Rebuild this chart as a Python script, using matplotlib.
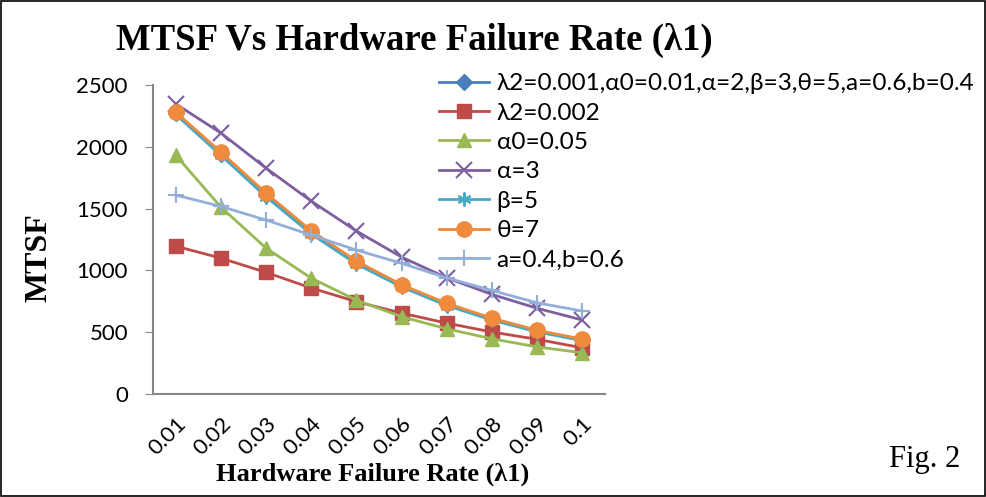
import matplotlib
matplotlib.use("Agg")
import matplotlib.pyplot as plt
from matplotlib.patches import Rectangle

x_labels = ["0.01", "0.02", "0.03", "0.04", "0.05", "0.06", "0.07", "0.08", "0.09", "0.1"]

base = [2272, 1945, 1610, 1310, 1065, 880, 728, 608, 512, 438]
lam2_002 = [1197, 1100, 985, 858, 748, 655, 574, 502, 443, 374]
alpha0_005 = [1934, 1513, 1181, 938, 760, 626, 528, 447, 382, 334]
alpha_3 = [2348, 2112, 1828, 1561, 1319, 1108, 940, 806, 694, 599]
beta_5 = [2262, 1932, 1596, 1295, 1052, 866, 716, 598, 503, 432]
theta_7 = [2282, 1958, 1626, 1322, 1076, 885, 734, 614, 517, 444]
ab = [1610, 1518, 1408, 1286, 1165, 1058, 940, 838, 738, 672]

labels = ["λ2=0.001,α0=0.01,α=2,β=3,θ=5,a=0.6,b=0.4", "λ2=0.002", "α0=0.05",
          "α=3", "β=5", "θ=7", "a=0.4,b=0.6"]
series = [base, lam2_002, alpha0_005, alpha_3, beta_5, theta_7, ab]
colors = ["#4A7EBB", "#BE4B48", "#98B954", "#7D5FA0", "#46AAC5", "#F08A3C", "#93AFD9"]
markers = ["D", "s", "^", "x", (6, 2, 0), "o", "+"]
msizes = [8, 10, 10, 11, 10, 11, 12]

fig = plt.figure(figsize=(9.87, 4.97), dpi=100)
ax = fig.add_axes([0.155, 0.207, 0.458, 0.622])

xs = list(range(len(x_labels)))
for vals, lab, c, m, ms in zip(series, labels, colors, markers, msizes):
    ax.plot(xs, vals, color=c, marker=m, markersize=ms, linewidth=2,
            markeredgewidth=1.5 if m in ("x", "+") or isinstance(m, tuple) else 1,
            markeredgecolor=c, label=lab)

ax.set_xlim(-0.5, len(x_labels) - 0.5)
ax.set_ylim(0, 2500)
ax.set_yticks([0, 500, 1000, 1500, 2000, 2500])
ax.set_xticks(xs)
ax.set_xticklabels(x_labels, rotation=45, ha="right", rotation_mode="anchor",
                   family="Lato", fontsize=16)
for t in ax.get_yticklabels():
    t.set_family("Lato")
    t.set_fontsize(16)
ax.tick_params(axis="y", length=6, color="#868686", direction="out", pad=12)
ax.tick_params(axis="x", length=0, pad=14)
for s in ["top", "right"]:
    ax.spines[s].set_visible(False)
for s in ["left", "bottom"]:
    ax.spines[s].set_color("#868686")
    ax.spines[s].set_linewidth(1.5)

leg = ax.legend(loc="upper left", bbox_to_anchor=(0.445, 0.853), bbox_transform=fig.transFigure,
                frameon=False, prop={"family": "Lato", "size": 17.6},
                handlelength=2.05, labelspacing=0.34, handletextpad=0.3, borderaxespad=0,
                borderpad=0)

fig.text(0.42, 0.918, "MTSF Vs Hardware Failure Rate (λ1)", ha="center", va="center",
         family="Liberation Serif", fontweight="bold", fontsize=26.5)
fig.text(0.040, 0.482, "MTSF", ha="center", va="center", rotation=90,
         family="Liberation Serif", fontweight="bold", fontsize=23)
fig.text(0.378, 0.046, "Hardware Failure Rate (λ1)", ha="center", va="center",
         family="Liberation Serif", fontweight="bold", fontsize=19)
fig.text(0.937, 0.075, "Fig. 2", ha="center", va="center",
         family="Liberation Serif", fontsize=22)

fig.patches.append(Rectangle((0.001, 0.002), 0.997, 0.996, transform=fig.transFigure,
                             fill=False, edgecolor="black", linewidth=1.2))

fig.savefig("out.png", dpi=100)
